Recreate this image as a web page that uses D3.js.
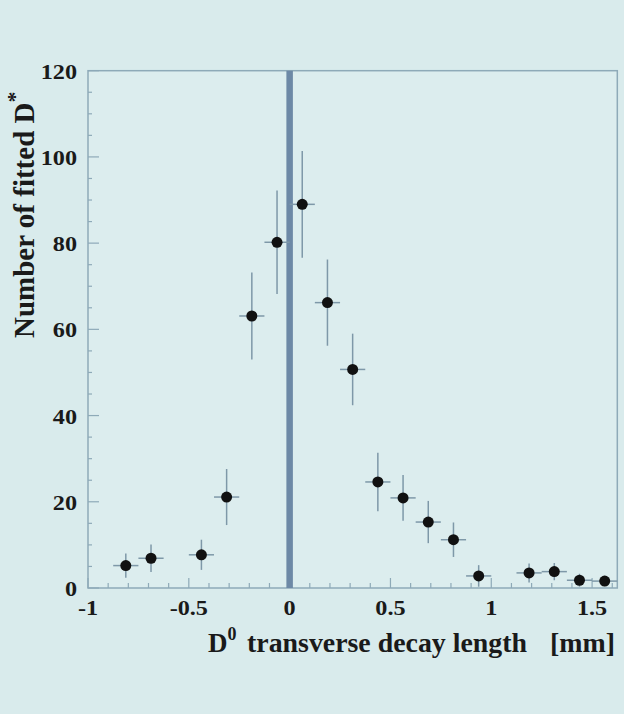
<!DOCTYPE html>
<html lang="en">
<head>
<script src="https://d3js.org/d3.v7.min.js"></script>
<style>
  body { margin: 0; background: #d9ebec; }
  text { font-family: "Liberation Serif", "DejaVu Serif", serif; font-weight: bold; fill: #1a1a1a; }
</style>
</head>
<body>
<div id="chart"></div>
<script>
// bin centres [mm], fitted D* counts and their errors
var binCentres = [-0.8125, -0.6875, -0.4375, -0.3125, -0.1875, -0.0625, 0.0625, 0.1875, 0.3125,
                  0.4375, 0.5625, 0.6875, 0.8125, 0.9375, 1.1875, 1.3125, 1.4375, 1.5625];
var counts     = [5.2, 6.9, 7.7, 21.1, 63.1, 80.2, 89.0, 66.2, 50.7,
                  24.6, 20.9, 15.3, 11.2, 2.8, 3.5, 3.8, 1.8, 1.6];
var countErrs  = [2.8, 3.2, 3.5, 6.5, 10.1, 12.0, 12.4, 10.0, 8.3,
                  6.8, 5.3, 4.9, 4.0, 2.5, 2.2, 2.0, 1.5, 1.2];
var binHalf = 0.0625;
var xTicks = [-1, -0.5, 0, 0.5, 1, 1.5];
var xTickLabels = ["-1", "-0.5", "0", "0.5", "1", "1.5"];
var yTicks = [0, 20, 40, 60, 80, 100, 120];

var W = 624, H = 714;
var margin = {top: 70.7, right: 6.7, bottom: 126, left: 88};
var width = W - margin.left - margin.right,
    height = H - margin.top - margin.bottom;

var svg = d3.select("#chart").append("svg")
  .attr("width", W).attr("height", H);
svg.append("rect").attr("width", W).attr("height", H).attr("fill", "#d9ebec");

var g = svg.append("g")
  .attr("transform", "translate(" + margin.left + "," + margin.top + ")");

var x = d3.scaleLinear().domain([-1, 1.625]).range([0, width]);
var y = d3.scaleLinear().domain([0, 120]).range([height, 0]);

var axisCol = "#8eaab8";

// frame
g.append("rect")
  .attr("width", width).attr("height", height)
  .attr("fill", "#dcedee")
  .attr("stroke", axisCol).attr("stroke-width", 1.5);

// ticks pointing inward
var xMinor = d3.range(-1, 1.62, 0.1);
g.append("g").selectAll("line").data(xMinor).enter().append("line")
  .attr("x1", d => x(d)).attr("x2", d => x(d))
  .attr("y1", height)
  .attr("y2", d => height - (Math.abs(d * 2 - Math.round(d * 2)) < 1e-6 ? 10 : 5))
  .attr("stroke", axisCol).attr("stroke-width", 1.2);

var yMinor = d3.range(0, 121, 5);
g.append("g").selectAll("line").data(yMinor).enter().append("line")
  .attr("y1", d => y(d)).attr("y2", d => y(d))
  .attr("x1", 0)
  .attr("x2", d => d % 20 === 0 ? 11 : 4)
  .attr("stroke", axisCol).attr("stroke-width", 1.2);

// tick labels (scan is slightly wide, so stretch a bit)
g.append("g").selectAll("text").data(yTicks).enter().append("text")
  .attr("transform", d => "translate(-11," + (y(d) + 8) + ") scale(1.1,1)")
  .attr("text-anchor", "end")
  .style("font-size", "22px")
  .text(d => d);

g.append("g").selectAll("text").data(xTicks).enter().append("text")
  .attr("transform", d => "translate(" + x(d) + "," + (height + 27) + ") scale(1.1,1)")
  .attr("text-anchor", "middle")
  .style("font-size", "22px")
  .text((d, i) => xTickLabels[i]);

// thick line at zero
g.append("line")
  .attr("x1", x(0)).attr("x2", x(0))
  .attr("y1", 0).attr("y2", height)
  .attr("stroke", "#6d89a6").attr("stroke-width", 6.5);

// error bars
var pts = binCentres.map((c, i) => ({x: c, y: counts[i], e: countErrs[i]}));
var errCol = "#7e98a8";
var eb = g.append("g");
eb.selectAll(".ev").data(pts).enter().append("line")
  .attr("x1", d => x(d.x)).attr("x2", d => x(d.x))
  .attr("y1", d => y(d.y + d.e)).attr("y2", d => y(Math.max(0, d.y - d.e)))
  .attr("stroke", errCol).attr("stroke-width", 1.5);
eb.selectAll(".eh").data(pts).enter().append("line")
  .attr("x1", d => x(d.x - binHalf)).attr("x2", d => x(d.x + binHalf))
  .attr("y1", d => y(d.y)).attr("y2", d => y(d.y))
  .attr("stroke", errCol).attr("stroke-width", 1.5);

// points
g.append("g").selectAll("circle").data(pts).enter().append("circle")
  .attr("cx", d => x(d.x)).attr("cy", d => y(d.y))
  .attr("r", 5.5)
  .attr("fill", "#111");

// x title
var xt = svg.append("text").attr("x", 208).attr("y", 652).style("font-size", "27px");
xt.append("tspan").text("D");
xt.append("tspan").attr("dy", -12).style("font-size", "18px").text("0");
svg.append("text").attr("x", 247).attr("y", 652)
  .attr("textLength", 280).attr("lengthAdjust", "spacingAndGlyphs")
  .style("font-size", "27px").text("transverse decay length");
svg.append("text").attr("x", 550).attr("y", 652)
  .attr("textLength", 65).attr("lengthAdjust", "spacingAndGlyphs")
  .style("font-size", "27px").text("[mm]");

// y title
var yt = svg.append("text")
  .attr("transform", "translate(34,338) rotate(-90)")
  .style("font-size", "29px");
yt.append("tspan").text("Number of fitted D");
yt.append("tspan").attr("dy", -12).style("font-size", "22px").text("*");
</script>
</body>
</html>
